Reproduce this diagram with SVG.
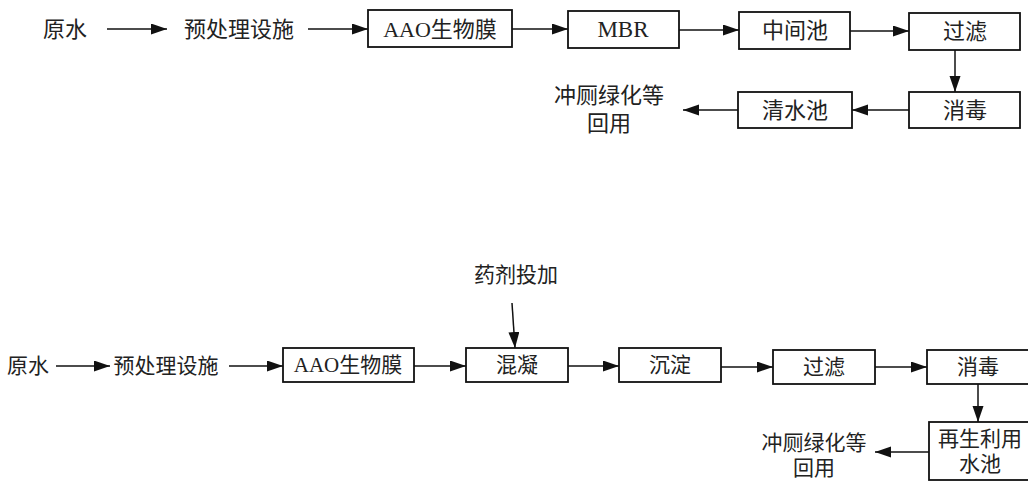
<svg xmlns="http://www.w3.org/2000/svg" width="1028" height="482" viewBox="0 0 1028 482">
<style>
text{font-family:"Liberation Serif","Noto Sans CJK SC",serif;fill:#222;text-anchor:middle;dominant-baseline:central}
.t{font-size:22px}
.b{font-size:21px}
.lat{font-size:23px}
rect{fill:#fff;stroke:#111;stroke-width:1.8}
.c line{stroke:#111;stroke-width:1.5;marker-end:url(#ah)}
</style>
<defs>
<marker id="ah" markerUnits="userSpaceOnUse" markerWidth="17" markerHeight="12" refX="16" refY="5.5" orient="auto">
<path d="M0,0 L16,5.5 L0,11 z" fill="#111"/>
</marker>
</defs>
<rect x="0" y="0" width="1028" height="482" style="stroke:none"/>
<g class="c">
<line x1="107" y1="29" x2="167" y2="29"/>
<line x1="308" y1="29" x2="368" y2="29"/>
<line x1="512" y1="29" x2="568" y2="29"/>
<line x1="679" y1="30" x2="739" y2="30"/>
<line x1="850" y1="31" x2="909" y2="31"/>
<line x1="955" y1="50" x2="955" y2="92"/>
<line x1="909" y1="110" x2="852" y2="110"/>
<line x1="738" y1="110" x2="683" y2="110"/>
<line x1="56" y1="366" x2="110" y2="366"/>
<line x1="229" y1="366" x2="283" y2="366"/>
<line x1="414" y1="366" x2="466" y2="366"/>
<line x1="568" y1="366" x2="619" y2="366"/>
<line x1="721" y1="367" x2="773" y2="367"/>
<line x1="875" y1="367" x2="927" y2="367"/>
<line x1="512" y1="303" x2="515" y2="348"/>
<line x1="978" y1="384" x2="978" y2="422"/>
<line x1="929" y1="452" x2="875" y2="452"/>
</g>
<g id="t-raw"><text class="t" x="65" y="29">原水</text></g>
<g id="t-pre"><text class="t" x="239" y="29">预处理设施</text></g>
<g id="t-aao"><rect x="368" y="10" width="144" height="37"/><text class="t" x="440" y="29">AAO生物膜</text></g>
<g id="t-mbr"><rect x="568" y="11" width="111" height="37"/><text class="lat" x="623" y="29">MBR</text></g>
<g id="t-mid"><rect x="739" y="12" width="111" height="37"/><text class="t" x="795" y="30">中间池</text></g>
<g id="t-filter"><rect x="909" y="13" width="111" height="37"/><text class="t" x="965" y="31">过滤</text></g>
<g id="t-dis"><rect x="909" y="92" width="111" height="36"/><text class="t" x="965" y="110">消毒</text></g>
<g id="t-clear"><rect x="738" y="92" width="114" height="36"/><text class="t" x="795" y="110">清水池</text></g>
<g id="t-reuse"><text class="t" x="609" y="95">冲厕绿化等</text><text class="t" x="609" y="123">回用</text></g>
<g id="b-raw"><text class="b" x="28" y="366">原水</text></g>
<g id="b-pre"><text class="b" x="166" y="366">预处理设施</text></g>
<g id="b-aao"><rect x="283" y="348" width="131" height="34"/><text class="b" x="348" y="365">AAO生物膜</text></g>
<g id="b-dose"><text class="b" x="516" y="275">药剂投加</text></g>
<g id="b-coag"><rect x="466" y="348" width="102" height="34"/><text class="b" x="517" y="365">混凝</text></g>
<g id="b-sed"><rect x="619" y="348" width="102" height="34"/><text class="b" x="670" y="365">沉淀</text></g>
<g id="b-filter"><rect x="773" y="350" width="102" height="34"/><text class="b" x="824" y="367">过滤</text></g>
<g id="b-dis"><rect x="927" y="350" width="104" height="34"/><text class="b" x="978" y="367">消毒</text></g>
<g id="b-pool"><rect x="929" y="422" width="102" height="58"/><text class="b" x="980" y="439">再生利用</text><text class="b" x="980" y="464">水池</text></g>
<g id="b-reuse"><text class="b" x="814" y="443">冲厕绿化等</text><text class="b" x="814" y="468">回用</text></g>
</svg>
